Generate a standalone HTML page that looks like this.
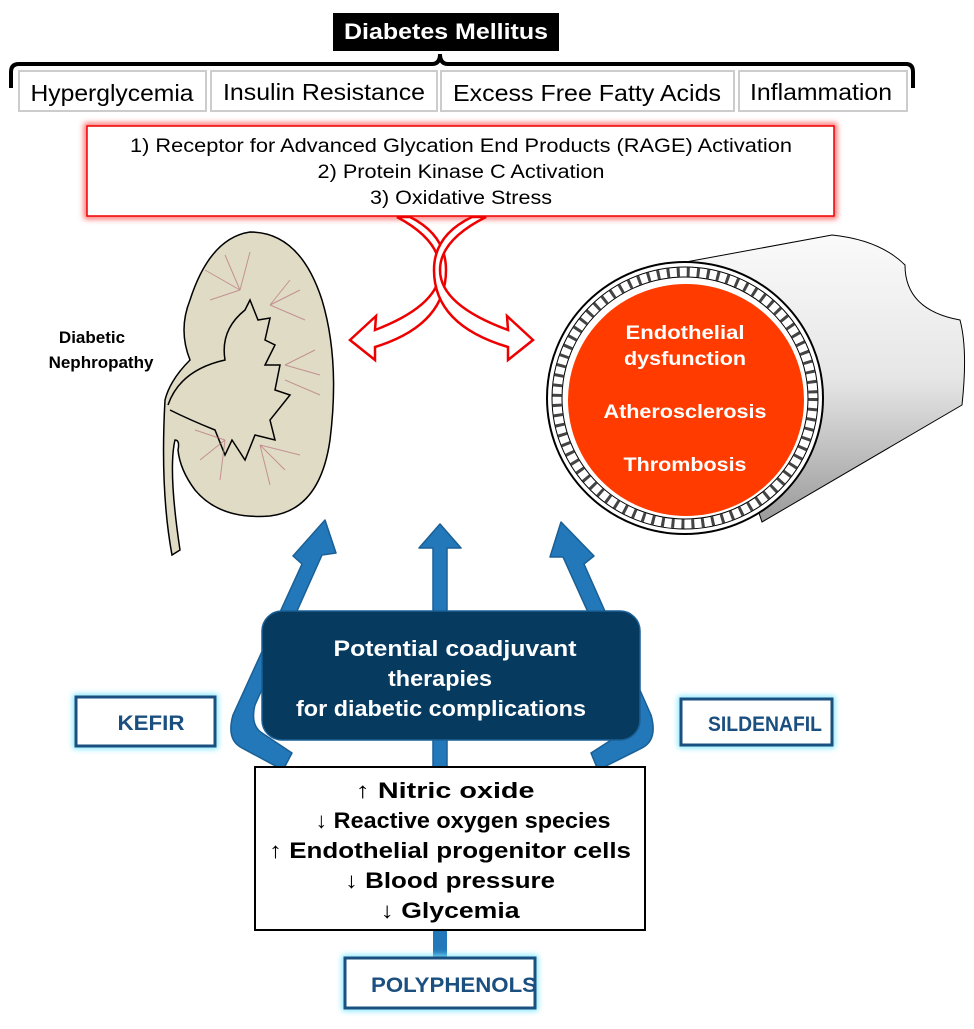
<!DOCTYPE html>
<html><head><meta charset="utf-8"><style>
body{margin:0;background:#fff;width:974px;height:1024px;overflow:hidden}
svg text{font-family:"Liberation Sans",Arial,sans-serif}
</style></head><body>
<svg width="974" height="1024" viewBox="0 0 974 1024" xmlns="http://www.w3.org/2000/svg">
<defs>
<filter id="glowR" x="-10%" y="-30%" width="120%" height="160%"><feGaussianBlur stdDeviation="3"/></filter>
<filter id="glowB" x="-20%" y="-40%" width="140%" height="180%"><feGaussianBlur stdDeviation="3"/></filter>
<linearGradient id="cyl" x1="0" y1="0" x2="0" y2="1"><stop offset="0" stop-color="#fafafa"/><stop offset="0.5" stop-color="#e6e6e6"/><stop offset="1" stop-color="#9a9a9a"/></linearGradient>
</defs>

<!-- Top -->
<rect x="333" y="13" width="226" height="38" fill="#000"/>
<text x="446" y="39" font-size="22" font-weight="bold" fill="#fff" text-anchor="middle" textLength="204" lengthAdjust="spacingAndGlyphs">Diabetes Mellitus</text>
<path d="M11,88 L11,72 Q11,64 19,64 L432,64 Q440,64 440,54 Q440,64 448,64 L906,64 Q913,64 913,72 L913,88" fill="none" stroke="#000" stroke-width="4"/>
<g fill="#fff" stroke="#ccc" stroke-width="2">
<rect x="19" y="71" width="187" height="40"/><rect x="211" y="71" width="226" height="40"/>
<rect x="441" y="71" width="293" height="40"/><rect x="739" y="71" width="168" height="40"/>
</g>
<g font-size="23" fill="#000" text-anchor="middle">
<text x="112" y="101" textLength="163" lengthAdjust="spacingAndGlyphs">Hyperglycemia</text>
<text x="324" y="100" textLength="202" lengthAdjust="spacingAndGlyphs">Insulin Resistance</text>
<text x="587" y="101" textLength="268" lengthAdjust="spacingAndGlyphs">Excess Free Fatty Acids</text>
<text x="821" y="100" textLength="142" lengthAdjust="spacingAndGlyphs">Inflammation</text>
</g>
<rect x="87" y="126" width="747" height="90" fill="none" stroke="#f66" stroke-width="6" filter="url(#glowR)"/>
<rect x="87" y="126" width="747" height="90" fill="#fff" stroke="#e00" stroke-width="1.5"/>
<g font-size="19" fill="#000" text-anchor="middle">
<text x="461" y="152" textLength="662" lengthAdjust="spacingAndGlyphs">1) Receptor for Advanced Glycation End Products (RAGE) Activation</text>
<text x="461" y="178" textLength="287" lengthAdjust="spacingAndGlyphs">2) Protein Kinase C Activation</text>
<text x="461" y="204" textLength="182" lengthAdjust="spacingAndGlyphs">3) Oxidative Stress</text>
</g>

<!-- red crossing arrows -->
<g fill="#fff" stroke="#e00" stroke-width="2.5" stroke-linejoin="miter">
<path d="M397,217 Q440,240 440,270 Q440,305 375,330 L376,316 L350,340 L375,360 L375,347 Q446,325 446,270 Q446,235 410,217 Z"/>
<path d="M486,217 Q440,240 440,270 Q440,305 508,330 L507,316 L533,340 L508,360 L508,347 Q434,325 434,270 Q434,235 472,217 Z"/>
</g>

<!-- Kidney -->
<path d="M190,300 Q210,238 250,232 Q300,232 322,300 Q340,360 330,440 Q320,510 270,516 Q220,520 195,490 Q180,470 178,450 Q180,440 175,440 Q168,470 180,550 L172,555 Q160,490 165,400 Q170,380 190,360 Q178,330 190,300 Z" fill="#e0dbc4" stroke="#000" stroke-width="1.5"/>
<path d="M168,405 Q180,370 225,360 Q220,330 245,310 L250,300 L258,320 L270,318 L265,340 L275,345 L265,365 L280,365 L275,390 L290,395 L270,420 L275,440 L255,435 L245,460 L232,440 L225,455 L215,430 Q190,420 170,410" fill="#e0dbc4" stroke="#000" stroke-width="1.5"/>
<g stroke="#b06070" stroke-width="1" opacity="0.6">
<path d="M240,290 L205,270 M240,290 L210,300 M240,290 L225,255 M240,290 L250,252 M270,305 L300,290 M270,305 L305,320 M270,305 L290,280 M285,365 L315,350 M285,365 L320,375 M285,380 L320,395 M225,440 L195,430 M225,440 L200,460 M225,440 L220,480 M260,445 L285,470 M260,445 L300,455 M260,445 L270,485"/>
</g>
<text x="92" y="343" font-size="17" font-weight="bold" text-anchor="middle">Diabetic</text>
<text x="101" y="368" font-size="17" font-weight="bold" text-anchor="middle">Nephropathy</text>

<!-- Vessel -->
<path d="M675,264 L832,235 Q880,240 905,265 Q905,310 960,320 Q968,350 962,405 L762,522 Z" fill="url(#cyl)" stroke="#000" stroke-width="1"/>
<ellipse cx="685" cy="398" rx="138" ry="136" fill="#fff" stroke="#000" stroke-width="2"/>
<ellipse cx="685" cy="398" rx="128" ry="126" fill="none" stroke="#444" stroke-width="9" stroke-dasharray="3 7"/>
<ellipse cx="685" cy="398" rx="133" ry="131" fill="none" stroke="#000" stroke-width="1"/>
<ellipse cx="685" cy="398" rx="123" ry="121" fill="none" stroke="#000" stroke-width="1"/>
<ellipse cx="686" cy="400" rx="118" ry="116" fill="#ff3b00"/>
<g font-size="19" font-weight="bold" fill="#fff" text-anchor="middle">
<text x="685" y="339" textLength="119" lengthAdjust="spacingAndGlyphs">Endothelial</text>
<text x="685" y="365" textLength="122" lengthAdjust="spacingAndGlyphs">dysfunction</text>
<text x="685" y="418" textLength="163" lengthAdjust="spacingAndGlyphs">Atherosclerosis</text>
<text x="685" y="471" textLength="123" lengthAdjust="spacingAndGlyphs">Thrombosis</text>
</g>

<!-- Blue arrows -->
<g fill="#2278b8" stroke="#1a5f95" stroke-width="1.5" stroke-linejoin="round">
<path d="M433,770 L433,548 L419,548 L440,524 L461,548 L447,548 L447,770 Z"/>
<path d="M283,770 L242,748 Q226,740 233,715 L302,564 L293,556 L325,520 L336,553 L322,555 L255,705 Q250,725 262,733 L292,753 Z"/>
<path d="M598,770 L642,748 Q658,740 651,715 L584,564 L594,556 L561,522 L550,557 L563,557 L630,705 Q635,725 622,733 L591,753 Z"/>
</g>

<rect x="262" y="611" width="378" height="129" rx="20" fill="#063a5f" stroke="#1a5f95" stroke-width="1.5"/>
<g font-size="22" font-weight="bold" fill="#fff" text-anchor="middle">
<text x="455" y="656" textLength="243" lengthAdjust="spacingAndGlyphs">Potential coadjuvant</text>
<text x="440" y="686" textLength="104" lengthAdjust="spacingAndGlyphs">therapies</text>
<text x="441" y="716" textLength="290" lengthAdjust="spacingAndGlyphs">for diabetic complications</text>
</g>

<!-- side boxes -->
<rect x="76" y="697" width="139" height="49" fill="none" stroke="#7ee8ff" stroke-width="6" filter="url(#glowB)"/>
<rect x="76" y="697" width="139" height="49" fill="#fff" stroke="#1a4f80" stroke-width="3"/>
<text x="151" y="730" font-size="21" font-weight="bold" fill="#1a4f80" text-anchor="middle" textLength="67" lengthAdjust="spacingAndGlyphs">KEFIR</text>
<rect x="681" y="699" width="151" height="46" fill="none" stroke="#7ee8ff" stroke-width="6" filter="url(#glowB)"/>
<rect x="681" y="699" width="151" height="46" fill="#fff" stroke="#1a4f80" stroke-width="3"/>
<text x="765" y="731" font-size="21" font-weight="bold" fill="#1a4f80" text-anchor="middle" textLength="114" lengthAdjust="spacingAndGlyphs">SILDENAFIL</text>

<rect x="433" y="930" width="14" height="30" fill="#2278b8"/>
<rect x="255" y="767" width="390" height="163" fill="#fff" stroke="#000" stroke-width="2"/>
<g font-size="22" font-weight="bold" fill="#000" text-anchor="middle">
<text x="445" y="798" textLength="179" lengthAdjust="spacingAndGlyphs">↑ Nitric oxide</text>
<text x="463" y="828" textLength="295" lengthAdjust="spacingAndGlyphs">↓ Reactive oxygen species</text>
<text x="450" y="858" textLength="362" lengthAdjust="spacingAndGlyphs">↑ Endothelial progenitor cells</text>
<text x="450" y="888" textLength="210" lengthAdjust="spacingAndGlyphs">↓ Blood pressure</text>
<text x="450" y="918" textLength="139" lengthAdjust="spacingAndGlyphs">↓ Glycemia</text>
</g>
<rect x="345" y="958" width="190" height="50" fill="none" stroke="#7ee8ff" stroke-width="6" filter="url(#glowB)"/>
<rect x="345" y="958" width="190" height="50" fill="#fff" stroke="#1a4f80" stroke-width="3"/>
<text x="454" y="992" font-size="21" font-weight="bold" fill="#1a4f80" text-anchor="middle" textLength="166" lengthAdjust="spacingAndGlyphs">POLYPHENOLS</text>
</svg>
</body></html>
